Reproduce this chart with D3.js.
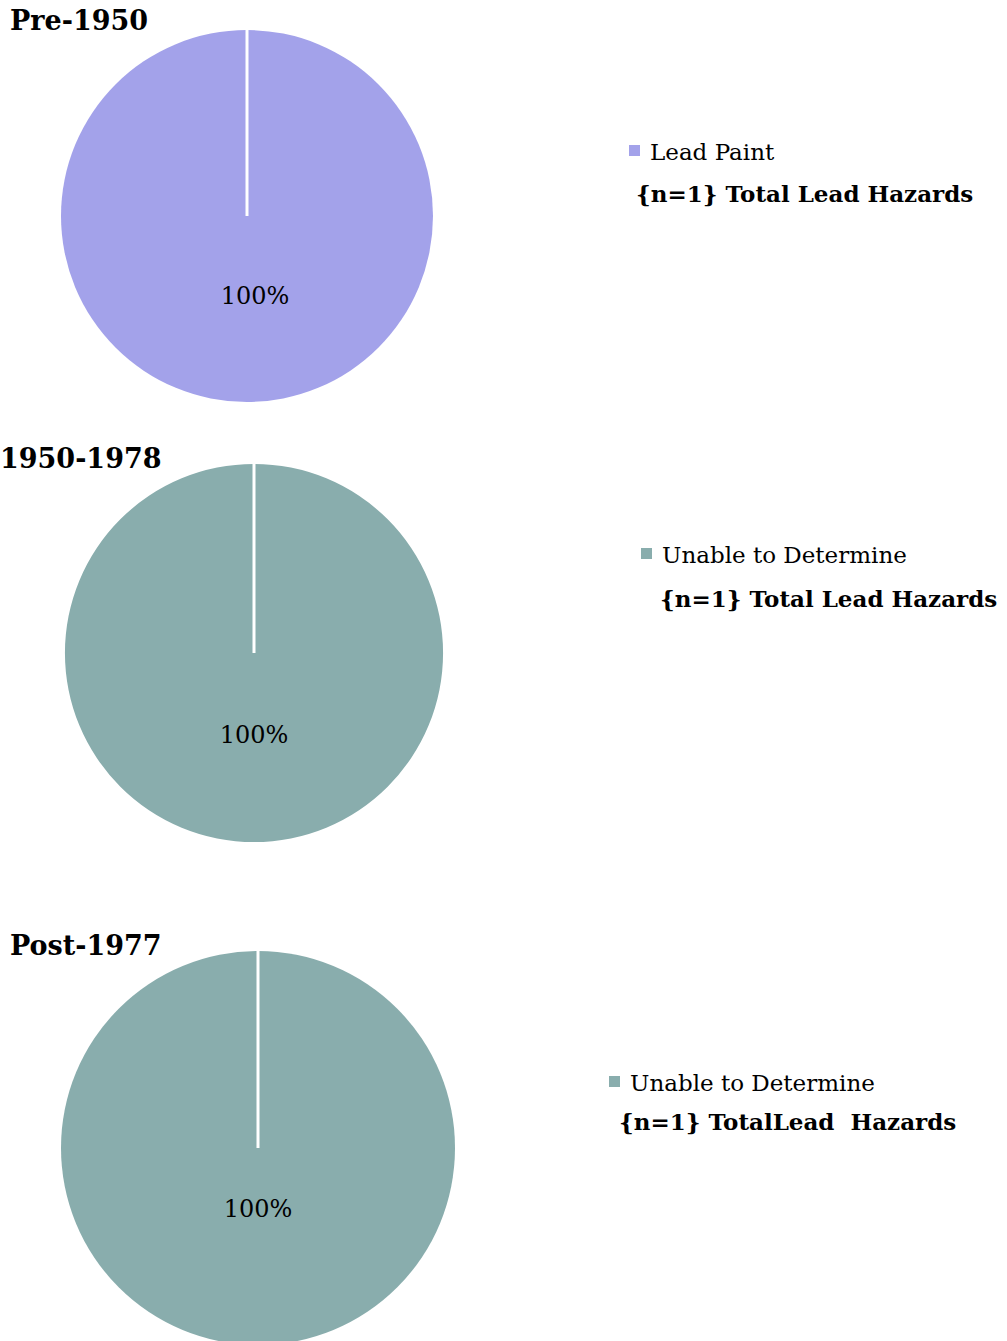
<!DOCTYPE html>
<html>
<head>
<meta charset="utf-8">
<script src="https://cdn.jsdelivr.net/npm/d3@7"></script>
<style>
  body { margin: 0; background: #fff; }
  svg { display: block; }
  text { font-family: "DejaVu Serif", "Liberation Serif", serif; fill: #000; }
</style>
</head>
<body>
<div id="chart"></div>
<script>
// one pie per building age group
const periods = ["Pre-1950", "1950-1978", "Post-1977"];
const categories = ["Lead Paint", "Unable to Determine", "Unable to Determine"];
const counts = [1, 1, 1];
const totals = ["{n=1} Total Lead Hazards", "{n=1} Total Lead Hazards", "{n=1} TotalLead  Hazards"];
const colors = ["#a3a2ea", "#89adad", "#89adad"];

// layout per panel
const layout = [
  {cx: 247, cy: 216, r: 186, lx: 8, ly: 79, titleX: 10, titleY: 30, legX: 629, legY: 160, totX: 636, totY: 202},
  {cx: 254, cy: 653, r: 189, lx: 0, ly: 81, titleX: 0, titleY: 468, legX: 641, legY: 563, totX: 660, totY: 607},
  {cx: 258, cy: 1148, r: 197, lx: 0, ly: 60, titleX: 10, titleY: 955, legX: 609, legY: 1091, totX: 619, totY: 1130}
];

const width = 1007, height = 1341;
const svg = d3.select("#chart").append("svg")
  .attr("width", width)
  .attr("height", height);

const pie = d3.pie().sort(null).value(d => d.value);

periods.forEach((p, i) => {
  const L = layout[i];
  const data = [{name: categories[i], value: counts[i]}];
  const total = d3.sum(data, d => d.value);
  const arc = d3.arc().innerRadius(0).outerRadius(L.r);

  const g = svg.append("g")
    .attr("transform", `translate(${L.cx},${L.cy})`);

  g.selectAll("path.slice")
    .data(pie(data))
    .join("path")
      .attr("class", "slice")
      .attr("d", arc)
      .attr("fill", colors[i]);

  // full-circle slice: draw the seam from centre to 12 o'clock
  g.append("line")
    .attr("x1", 0).attr("y1", 0)
    .attr("x2", 0).attr("y2", -L.r)
    .attr("stroke", "#fff")
    .attr("stroke-width", 3);

  g.selectAll("text.pct")
    .data(pie(data))
    .join("text")
      .attr("class", "pct")
      .attr("x", L.lx)
      .attr("y", L.ly + 9)
      .attr("text-anchor", "middle")
      .style("font-size", "24px")
      .text(d => d3.format(".0%")(d.value / total));

  svg.append("text")
    .attr("x", L.titleX)
    .attr("y", L.titleY)
    .style("font-size", "27px")
    .style("font-weight", "bold")
    .text(p);

  // legend
  svg.append("rect")
    .attr("x", L.legX)
    .attr("y", L.legY - 15)
    .attr("width", 11)
    .attr("height", 11)
    .attr("fill", colors[i]);

  svg.append("text")
    .attr("x", L.legX + 21)
    .attr("y", L.legY)
    .style("font-size", "23px")
    .text(categories[i]);

  svg.append("text")
    .attr("x", L.totX)
    .attr("y", L.totY)
    .style("font-size", "23px")
    .style("font-weight", "bold")
    .style("white-space", "pre")
    .text(totals[i]);
});
</script>
</body>
</html>
